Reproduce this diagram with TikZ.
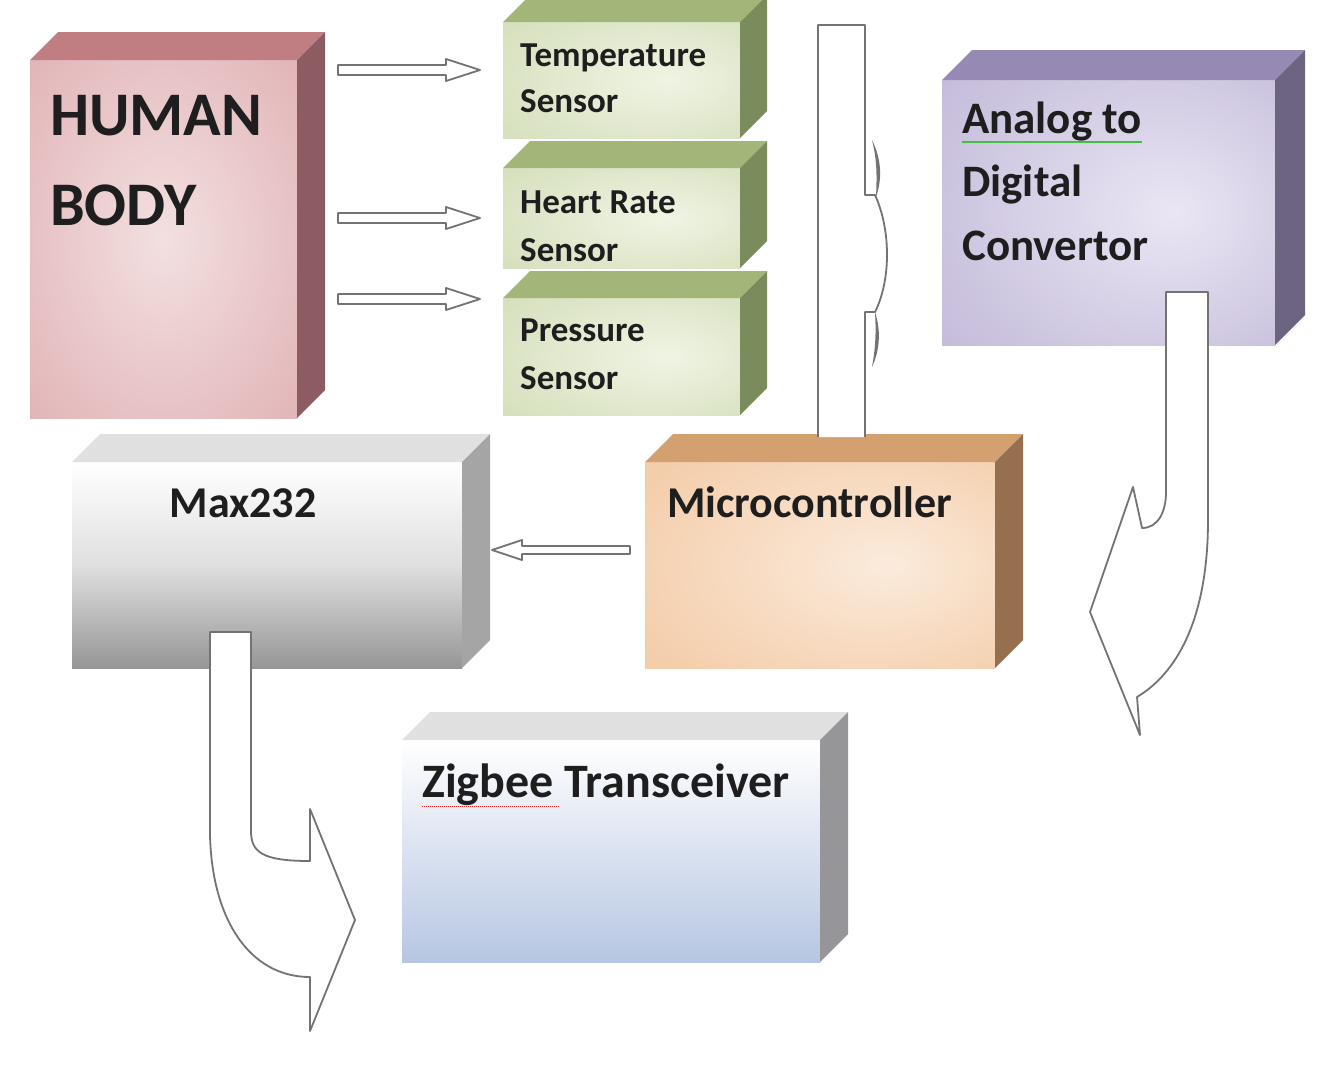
\documentclass[tikz,border=0pt]{standalone}
\usepackage{fontspec}
\setmainfont{Carlito}
\usetikzlibrary{calc}
\definecolor{hbtop}{RGB}{192,126,131}\definecolor{hbside}{RGB}{140,92,98}
\definecolor{hbin}{RGB}{243,224,224}\definecolor{hbout}{RGB}{210,142,148}
\definecolor{sntop}{RGB}{162,182,122}\definecolor{snside}{RGB}{122,140,92}
\definecolor{snin}{RGB}{240,244,228}\definecolor{snout}{RGB}{194,208,158}
\definecolor{adtop}{RGB}{150,138,180}\definecolor{adside}{RGB}{108,100,128}
\definecolor{adin}{RGB}{234,230,244}\definecolor{adout}{RGB}{168,156,198}
\definecolor{mctop}{RGB}{212,160,112}\definecolor{mcside}{RGB}{150,112,78}
\definecolor{mcin}{RGB}{251,235,220}\definecolor{mcout}{RGB}{238,180,128}
\definecolor{mxtop}{RGB}{224,224,224}\definecolor{mxside}{RGB}{165,165,165}
\definecolor{mxbot}{RGB}{150,150,150}
\definecolor{zbtop}{RGB}{224,224,224}\definecolor{zbside}{RGB}{150,150,152}
\definecolor{zbbot}{RGB}{182,198,226}
\definecolor{txt}{RGB}{30,30,30}
\definecolor{arr}{RGB}{115,115,115}
\pgfdeclareradialshading{hbshade}{\pgfpoint{0bp}{0bp}}{color(0bp)=(hbin); color(30bp)=(hbin!55!hbout); color(71bp)=(hbout)}
\pgfdeclareradialshading{snshade}{\pgfpoint{10bp}{0bp}}{color(0bp)=(snin); color(30bp)=(snin!55!snout); color(71bp)=(snout)}
\pgfdeclareradialshading{adshade}{\pgfpoint{10bp}{0bp}}{color(0bp)=(adin); color(30bp)=(adin!55!adout); color(71bp)=(adout)}
\pgfdeclareradialshading{mcshade}{\pgfpoint{10bp}{0bp}}{color(0bp)=(mcin); color(30bp)=(mcin!55!mcout); color(71bp)=(mcout)}
\newcommand\mkfaces[4]{%
  \fill[#3] (#1.north west) -- ++(#2,-#2) -- ([shift={(#2,-#2)}]#1.north east) -- (#1.north east) -- cycle;
  \fill[#4] (#1.north east) -- ([shift={(#2,-#2)}]#1.north east) -- ([shift={(#2,-#2)}]#1.south east) -- (#1.south east) -- cycle;}
\newcommand\rarrow[2]{\draw[hollow] ([yshift=5pt]#1) -- ([xshift=-34pt,yshift=5pt]#2) -- ([xshift=-34pt,yshift=11pt]#2) -- (#2) -- ([xshift=-34pt,yshift=-11pt]#2) -- ([xshift=-34pt,yshift=-5pt]#2) -- ([yshift=-5pt]#1) -- cycle;}
\newcommand\larrow[2]{\draw[hollow] ([yshift=4pt]#1) -- ([xshift=30pt,yshift=4pt]#2) -- ([xshift=30pt,yshift=10pt]#2) -- (#2) -- ([xshift=30pt,yshift=-10pt]#2) -- ([xshift=30pt,yshift=-4pt]#2) -- ([yshift=-4pt]#1) -- cycle;}
\begin{document}
\begin{tikzpicture}[x=1pt,y=-1pt,
  face/.style={draw=none,inner sep=0pt,outer sep=0pt,anchor=north west},
  lbl/.style={inner sep=0pt,text=txt,font=\bfseries},
  hollow/.style={draw=arr,line width=1.8pt,fill=white,line join=round}]
\useasboundingbox (0,0) rectangle (1335,1077);
\fill[white] (0,0) rectangle (1335,1077);
% Human body
\node[face,minimum width=267pt,minimum height=358pt,shading=hbshade] (hb) at (30,60) {};
\mkfaces{hb}{28}{hbtop}{hbside}
% Sensors
\node[face,minimum width=237pt,minimum height=116pt,shading=snshade] (ts) at (503,22) {};
\mkfaces{ts}{27}{sntop}{snside}
\node[face,minimum width=237pt,minimum height=100pt,shading=snshade] (hr) at (503,168) {};
\mkfaces{hr}{27}{sntop}{snside}
\node[face,minimum width=237pt,minimum height=117pt,shading=snshade] (ps) at (503,298) {};
\mkfaces{ps}{27}{sntop}{snside}
% ADC
\node[face,minimum width=333pt,minimum height=265pt,shading=adshade] (adc) at (942,80) {};
\mkfaces{adc}{30}{adtop}{adside}
% Microcontroller
\node[face,minimum width=350pt,minimum height=206pt,shading=mcshade] (mc) at (645,462) {};
\mkfaces{mc}{28}{mctop}{mcside}
% Max232
\node[face,minimum width=390pt,minimum height=206pt,top color=white,bottom color=mxbot,middle color=white!70!mxbot] (mx) at (72,462) {};
\mkfaces{mx}{28}{mxtop}{mxside}
% Zigbee
\node[face,minimum width=418pt,minimum height=222pt,top color=white,bottom color=zbbot] (zb) at (402,740) {};
\mkfaces{zb}{28}{zbtop}{zbside}
% Labels
\node[lbl,anchor=base west,font=\bfseries\fontsize{62}{70}\selectfont] (hbt1) at (50,135) {HUMAN};
\node[lbl,anchor=base west,font=\bfseries\fontsize{62}{70}\selectfont] (hbt2) at (50,225) {BODY};
\node[lbl,anchor=base west,font=\bfseries\fontsize{35}{40}\selectfont] (tst1) at (520,66) {Temperature};
\node[lbl,anchor=base west,font=\bfseries\fontsize{35}{40}\selectfont] (tst2) at (520,112) {Sensor};
\node[lbl,anchor=base west,font=\bfseries\fontsize{35}{40}\selectfont] (hrt1) at (520,213) {Heart Rate};
\node[lbl,anchor=base west,font=\bfseries\fontsize{35}{40}\selectfont] (hrt2) at (520,261) {Sensor};
\node[lbl,anchor=base west,font=\bfseries\fontsize{35}{40}\selectfont] (pst1) at (520,341) {Pressure};
\node[lbl,anchor=base west,font=\bfseries\fontsize{35}{40}\selectfont] (pst2) at (520,389) {Sensor};
\node[lbl,anchor=base west,font=\bfseries\fontsize{45}{50}\selectfont] (adt1) at (962,133) {Analog to};
\node[lbl,anchor=base west,font=\bfseries\fontsize{45}{50}\selectfont] (adt2) at (962,196) {Digital};
\node[lbl,anchor=base west,font=\bfseries\fontsize{45}{50}\selectfont] (adt3) at (962,260) {Convertor};
\node[lbl,anchor=base,font=\bfseries\fontsize{44}{50}\selectfont] (mxt) at (243,517) {Max232};
\node[lbl,anchor=base west,font=\bfseries\fontsize{44}{50}\selectfont] (mct) at (667,517) {Microcontroller};
\node[lbl,anchor=base west,font=\bfseries\fontsize{48}{52}\selectfont] (zbt) at (422,797) {Zigbee Transceiver};
\draw[green!50!gray,line width=1.2pt] ([yshift=-9pt]adt1.base west) -- ([yshift=-9pt]adt1.base east);
\draw[red!70!gray,line width=1pt,densely dotted] ([yshift=-9pt]zbt.base west) -- ++(138,0);
% straight hollow arrows
\coordinate (a1s) at (338,70); \coordinate (a1e) at (480,70);
\coordinate (a2s) at (338,218); \coordinate (a2e) at (480,218);
\coordinate (a3s) at (338,299); \coordinate (a3e) at (480,299);
\coordinate (a4s) at (630,550); \coordinate (a4e) at (492,550);
\rarrow{a1s}{a1e}
\rarrow{a2s}{a2e}
\rarrow{a3s}{a3e}
\larrow{a4s}{a4e}
% vertical shape above microcontroller
\draw[hollow] (818,437) -- (818,25) -- (865,25) -- (865,195) -- (875,195)
  .. controls (891,230) and (891,280) .. (875,312) -- (865,312) -- (865,437);
\fill[arr] (872,140) .. controls (882,160) and (882,180) .. (876,197) .. controls (877,175) and (877,160) .. (872,140);
\fill[arr] (875,312) .. controls (881,330) and (880,350) .. (872,367) .. controls (876,345) and (876,330) .. (875,312);
% curved arrow from ADC
\draw[hollow] (1166,292) -- (1208,292) -- (1208,520)
  .. controls (1208,610) and (1182,670) .. (1137,697) -- (1140,735) -- (1090,612) -- (1133,487) -- (1142,528)
  .. controls (1158,528) and (1166,512) .. (1166,492) -- cycle;
% curved arrow from Max232
\draw[hollow] (210,632) -- (251,632) -- (251,831)
  .. controls (251,852) and (262,861) .. (310,861) -- (310,809) -- (355,920) -- (310,1031) -- (310,977)
  .. controls (250,977) and (212,920) .. (210,835) -- cycle;
\end{tikzpicture}
\end{document}
